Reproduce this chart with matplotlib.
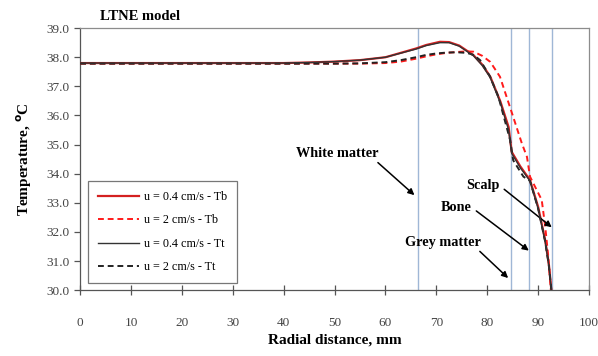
import numpy as np
import matplotlib.pyplot as plt

# data
x_tb04 = [0, 10, 20, 30, 40, 45, 50, 55, 60, 63, 66, 68, 70.7, 72.5, 74.5, 77.3, 79, 80.6, 82.6, 84.2, 84.8, 86.5, 88.4, 90, 91.4, 92.1, 92.6]
y_tb04 = [37.8, 37.8, 37.8, 37.8, 37.8, 37.82, 37.85, 37.9, 38.0, 38.15, 38.3, 38.42, 38.53, 38.52, 38.4, 38.07, 37.75, 37.33, 36.47, 35.6, 34.75, 34.25, 33.78, 32.86, 31.7, 30.9, 30.0]

x_tt04 = [0, 10, 20, 30, 40, 45, 50, 55, 60, 63, 66, 68, 70.7, 72.5, 74.5, 77.3, 79, 80.6, 82.6, 84.2, 84.8, 86.5, 88.4, 90, 91.4, 92.1, 92.6]
y_tt04 = [37.8, 37.8, 37.8, 37.8, 37.8, 37.82, 37.85, 37.9, 38.0, 38.14, 38.28, 38.4, 38.5, 38.5, 38.38, 38.05, 37.72, 37.3, 36.42, 35.5, 34.7, 34.2, 33.75, 32.8, 31.65, 30.85, 30.0]

x_tb2 = [0, 10, 20, 30, 40, 50, 55, 60, 63, 66, 68, 70, 72, 74, 76, 77.3, 79, 80.6, 82.5, 83.8, 85.1, 86.8, 87.8, 88.4, 89.4, 90.7, 91.4, 92, 92.5]
y_tb2 = [37.78, 37.78, 37.78, 37.78, 37.78, 37.78, 37.78, 37.8, 37.85, 37.95, 38.03, 38.1, 38.15, 38.18, 38.2, 38.19, 38.05, 37.84, 37.33, 36.64, 35.95, 35.04, 34.58, 33.9, 33.55, 33.1, 32.17, 31.14, 30.0]

x_tt2 = [0, 10, 20, 30, 40, 50, 55, 60, 63, 66, 68, 70, 72, 74, 76, 77.3, 78.6, 80.5, 82.2, 84.5, 85.1, 87.1, 88.4, 90, 91.4, 92.1, 92.6]
y_tt2 = [37.78, 37.78, 37.78, 37.78, 37.78, 37.78, 37.79, 37.83, 37.9, 38.0, 38.08, 38.13, 38.16, 38.17, 38.15, 38.08, 37.9, 37.35, 36.64, 35.15, 34.46, 33.9, 33.75, 32.8, 31.65, 30.85, 30.0]

boundaries = [66.3, 84.7, 88.3, 92.7]

plt.rcParams['font.family'] = ['Liberation Serif', 'DejaVu Serif']

fig = plt.figure(figsize=(5.98, 3.56), dpi=100)
ax = fig.add_axes([0.134, 0.185, 0.851, 0.736])

for b in boundaries:
    ax.axvline(b, color='#9fb7d6', lw=1.0, zorder=1)

ax.plot(x_tb04, y_tb04, color='#d42020', lw=1.6, label='u = 0.4 cm/s - Tb', zorder=3)
ax.plot(x_tb2, y_tb2, color='#ff1a1a', lw=1.4, ls=(0, (3, 2)), label='u = 2 cm/s - Tb', zorder=3)
ax.plot(x_tt04, y_tt04, color='#333333', lw=1.0, label='u = 0.4 cm/s - Tt', zorder=4)
ax.plot(x_tt2, y_tt2, color='#222222', lw=1.4, ls=(0, (3, 2)), label='u = 2 cm/s - Tt', zorder=3)

ax.set_xlim(0, 100)
ax.set_ylim(30, 39)
ax.set_xticks(np.arange(0, 101, 10))
ax.set_yticks(np.arange(30, 39.1, 1))
ax.set_yticklabels([f'{v:.1f}' for v in np.arange(30, 39.1, 1)])

for s in ax.spines.values():
    s.set_color('#8c8c8c')
    s.set_linewidth(0.9)
ax.spines['left'].set_color('#555555')
ax.spines['bottom'].set_color('#555555')
ax.tick_params(axis='x', direction='inout', length=7, width=0.9, color='#555555', labelsize=9.5, labelcolor='#444444', pad=16)
ax.tick_params(axis='y', direction='out', length=4, width=0.9, color='#555555', labelsize=9.5, labelcolor='#444444')

ax.set_xlabel('Radial distance, mm', fontsize=11, fontweight='bold', labelpad=3)
ax.set_ylabel('Temperature, $^{\\mathbf{o}}$C', fontsize=11, fontweight='bold', labelpad=9)

ax.text(0.04, 1.03, 'LTNE model', transform=ax.transAxes, fontsize=10.5, fontweight='bold')

akw = dict(arrowstyle='-|>', color='black', lw=1.1, mutation_scale=9)
ax.annotate('White matter', xy=(66.1, 33.2), xytext=(42.5, 34.7), fontsize=10.3, fontweight='bold',
            va='center', arrowprops=dict(akw, shrinkA=0, relpos=(0.95, 0.0)))
ax.annotate('Scalp', xy=(93.1, 32.1), xytext=(75.8, 33.6), fontsize=10.3, fontweight='bold',
            va='center', arrowprops=dict(akw, shrinkA=2, relpos=(1.0, 0.5)))
ax.annotate('Bone', xy=(88.6, 31.3), xytext=(70.8, 32.85), fontsize=10.3, fontweight='bold',
            va='center', arrowprops=dict(akw, shrinkA=2, relpos=(1.0, 0.5)))
ax.annotate('Grey matter', xy=(84.5, 30.35), xytext=(63.8, 31.65), fontsize=10.3, fontweight='bold',
            va='center', arrowprops=dict(akw, shrinkA=0, relpos=(0.95, 0.0)))

leg = ax.legend(loc='lower left', bbox_to_anchor=(0.016, 0.027), borderaxespad=0, fontsize=8.7, frameon=True,
                fancybox=False, edgecolor='#555555', handlelength=3.4, labelspacing=0.95, borderpad=0.8,
                handletextpad=0.4)
leg.get_frame().set_linewidth(0.9)

fig.savefig('out.png', dpi=100)
